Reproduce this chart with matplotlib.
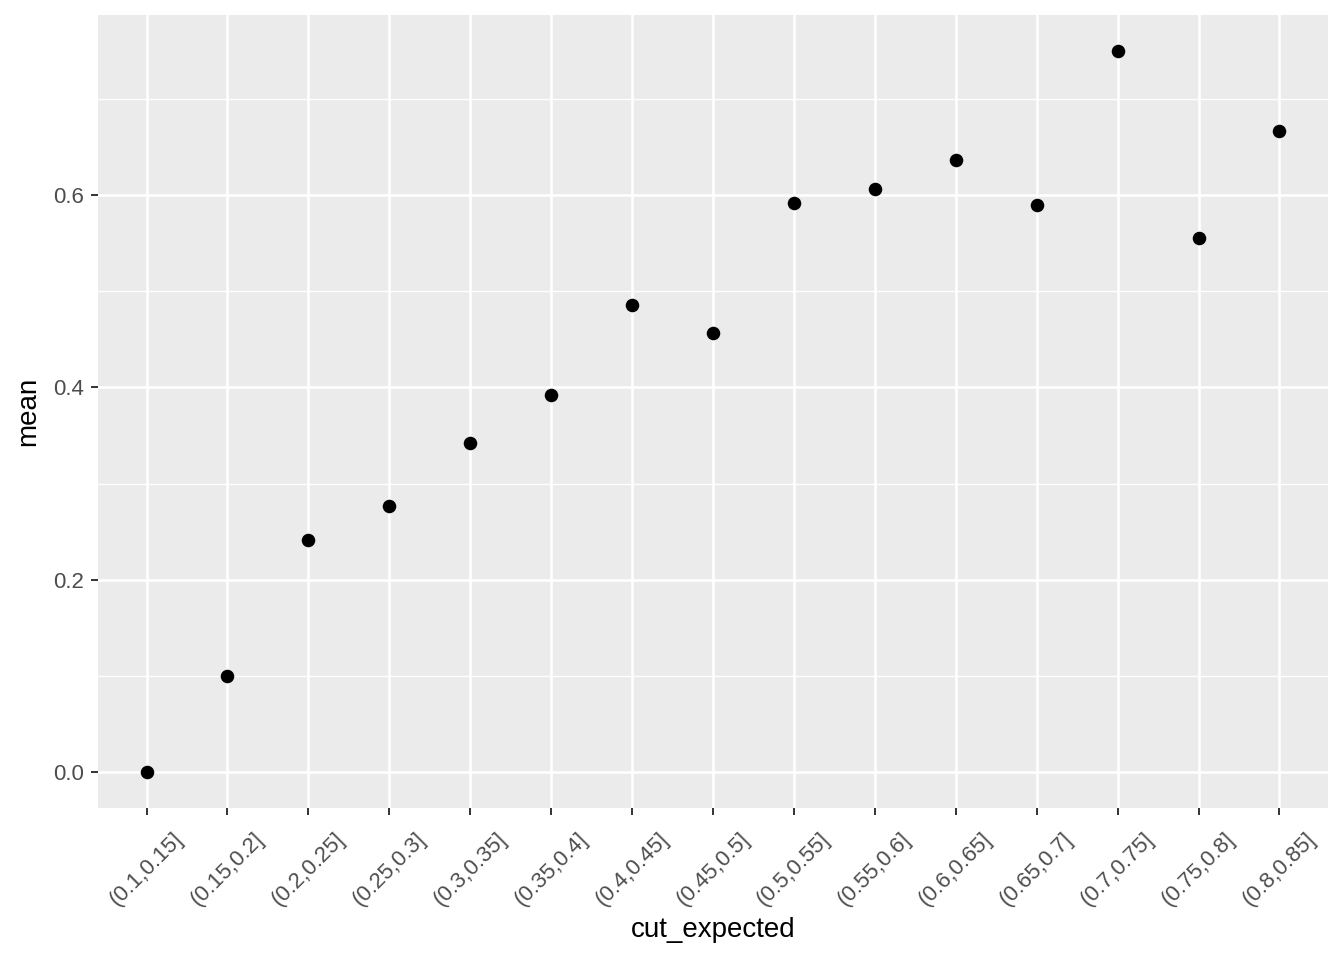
import matplotlib
matplotlib.use("Agg")
import matplotlib.pyplot as plt
from matplotlib.ticker import MultipleLocator

plt.rcParams['font.family'] = ['Liberation Sans', 'DejaVu Sans']

categories = ["(0.1,0.15]", "(0.15,0.2]", "(0.2,0.25]", "(0.25,0.3]", "(0.3,0.35]",
              "(0.35,0.4]", "(0.4,0.45]", "(0.45,0.5]", "(0.5,0.55]", "(0.55,0.6]",
              "(0.6,0.65]", "(0.65,0.7]", "(0.7,0.75]", "(0.75,0.8]", "(0.8,0.85]"]
mean = [0.0, 0.1, 0.241, 0.277, 0.342, 0.392, 0.486, 0.457, 0.592, 0.606,
        0.637, 0.590, 0.750, 0.556, 0.667]

fig = plt.figure(figsize=(13.44, 9.6), dpi=100)
ax = fig.add_axes([98/1344, 152/960, 1230/1344, 793/960])
ax.set_facecolor('#EBEBEB')

x = list(range(1, len(categories) + 1))
ax.scatter(x, mean, s=95, color='black', zorder=3, linewidths=0)

ymin, ymax = min(mean), max(mean)
pad = (ymax - ymin) * 0.05
ax.set_ylim(ymin - pad, ymax + pad)
ax.set_xlim(0.4, len(categories) + 0.6)

ax.set_xticks(x)
ax.set_xticklabels(categories, rotation=45, ha='center', va='top',
                   fontsize=16, color='#4D4D4D')
ax.yaxis.set_major_locator(MultipleLocator(0.2))
ax.yaxis.set_minor_locator(MultipleLocator(0.1))
ax.tick_params(axis='y', labelsize=16, labelcolor='#4D4D4D', pad=5)
ax.tick_params(axis='x', pad=10)
ax.tick_params(which='major', color='#333333', length=5, width=1.4)
ax.tick_params(which='minor', length=0)
ax.yaxis.set_major_formatter(plt.FuncFormatter(lambda v, p: f"{v:.1f}"))

ax.grid(which='major', color='white', linewidth=1.9)
ax.grid(which='minor', axis='y', color='white', linewidth=1.0)
ax.set_axisbelow(True)
for sp in ax.spines.values():
    sp.set_visible(False)

ax.set_xlabel('cut_expected', fontsize=20, color='black', labelpad=5)
ax.set_ylabel('mean', fontsize=20, color='black', labelpad=9)

fig.savefig('out.png', dpi=100)
